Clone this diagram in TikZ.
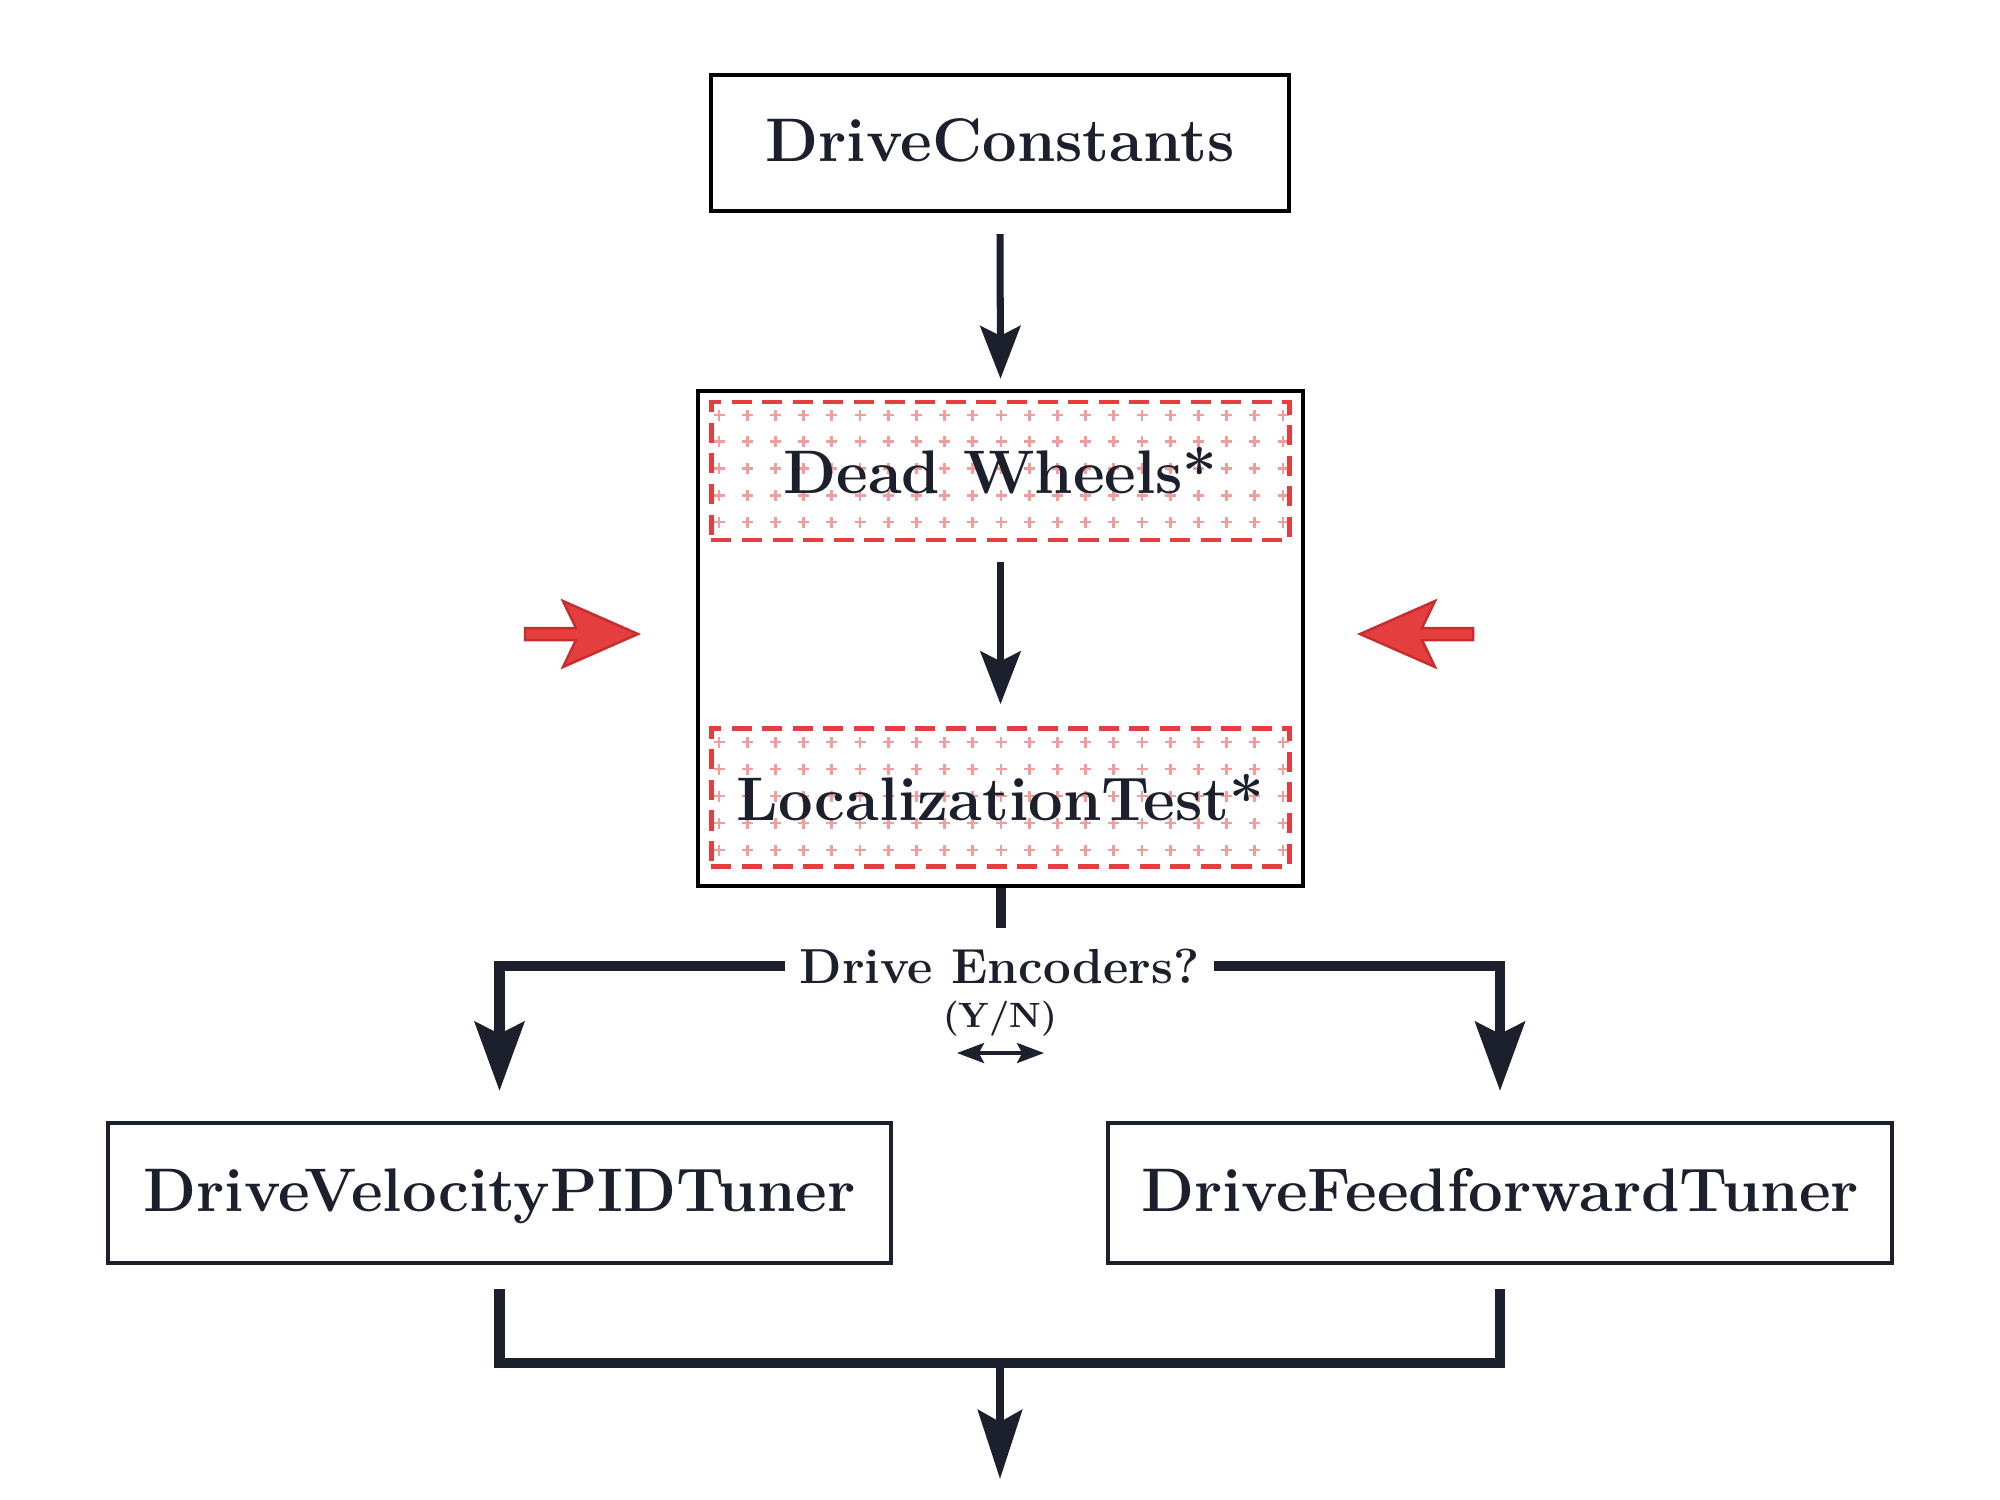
\documentclass[tikz,border=0pt]{standalone}
\usetikzlibrary{arrows.meta,calc,backgrounds}
\definecolor{navy}{HTML}{1B202C}
\definecolor{myred}{HTML}{E53E3E}
\definecolor{darkred}{HTML}{C62E2E}
\definecolor{plusred}{HTML}{F29C9C}
\begin{document}
\begin{tikzpicture}[x=0.01cm,y=-0.01cm,
  plainbox/.style={draw=navy, line width=1.15pt, text=navy, font=\fontsize{17.5}{21}\selectfont\bfseries, inner sep=0pt,
    text height=13.3pt, text depth=2.8pt},
  dashbox/.style={draw=myred, line width=1.3pt, dash pattern=on 5.7pt off 3pt, text=navy, font=\fontsize{17.5}{21}\selectfont\bfseries,
    minimum width=5.78cm, minimum height=1.38cm, inner sep=0pt},
  mainarrow/.style={draw=navy, line width=2pt, -{Stealth[length=15pt,width=11.4pt,inset=2.8pt]}},
  brancharrow/.style={draw=navy, line width=2.85pt, -{Stealth[length=19.6pt,width=14pt,inset=3.4pt]}},
  finalarrow/.style={draw=navy, line width=2.5pt, -{Stealth[length=19.6pt,width=12.5pt,inset=3.4pt]}},
  smallarrow/.style={draw=navy, line width=1pt, {Stealth[length=7.7pt,width=5.7pt,inset=1.5pt]}-{Stealth[length=7.7pt,width=5.7pt,inset=1.5pt]}},
  thickline/.style={draw=navy, line width=2.85pt},
  plussign/.style={draw=plusred, line width=0.75pt},
  redarrow/.style={fill=myred, draw=darkred, line width=0.7pt, line join=miter}
]
\useasboundingbox (0,0) rectangle (2000,1499);

% nodes
\node[plainbox, draw=black, minimum width=5.77cm, minimum height=1.36cm] (dc) at (1000,143) {DriveConstants};
\node[draw=black, line width=1.2pt, minimum width=6.05cm, minimum height=4.95cm, inner sep=0pt] (outer) at (1000.5,638.5) {};
\node[dashbox] (dw) at (1000.5,471) {Dead Wheels*};
\node[dashbox] (lt) at (1000.5,797.5) {LocalizationTest*};
\node[plainbox, minimum width=7.83cm, minimum height=1.40cm] (vel) at (499.5,1193) {DriveVelocityPIDTuner};
\node[plainbox, minimum width=7.83cm, minimum height=1.40cm] (ff) at (1500,1193) {DriveFeedforwardTuner};
\node[text=navy, font=\fontsize{14}{16}\selectfont\bfseries, inner xsep=4pt, inner ysep=2pt] (q) at (999.5,966) {Drive Encoders?};
\node[text=navy, font=\normalsize\bfseries, inner sep=1pt] (yn) at (1000,1019) {(Y/N)};

% plus patterns
\begin{scope}[on background layer]
  \begin{scope}
    \clip (dw.south west) rectangle (dw.north east);
    \foreach \i in {0,...,20}
      \foreach \j in {0,...,4}
        \draw[plussign] ({719+28.2*\i},{415+26.75*\j}) +(-5.5,0) -- +(5.5,0) +(0,-5.5) -- +(0,5.5);
  \end{scope}
  \begin{scope}
    \clip (lt.south west) rectangle (lt.north east);
    \foreach \i in {0,...,20}
      \foreach \j in {0,...,4}
        \draw[plussign] ({719+28.2*\i},{742+27*\j}) +(-5.5,0) -- +(5.5,0) +(0,-5.5) -- +(0,5.5);
  \end{scope}
\end{scope}

% connectors
\draw[mainarrow] ($(dc.south)+(0,21)$) -- ($(outer.north)+(0,-10)$);
\draw[mainarrow] ($(dw.south)+(0,20)$) -- ($(lt.north)+(0,-22)$);
\coordinate (stemend) at ($(outer.south)+(0,40)$);
\draw[thickline] (outer.south) -- (stemend);
\draw[brancharrow] (q.west) -| ($(vel.north)+(0,-30)$);
\draw[brancharrow] (q.east) -| ($(ff.north)+(0,-30)$);

\coordinate (ynl) at (957,1053);
\coordinate (ynr) at (1044,1053);
\draw[smallarrow] (ynl) -- (ynr);

\draw[thickline] ($(vel.south)+(0,24)$) |- ($(ff.south)+(0,98)$) -- ($(ff.south)+(0,24)$);
\coordinate (join) at (1000,1363);
\coordinate (outend) at (1000,1479);
\draw[finalarrow] (join) -- (outend);

% red arrows
\draw[redarrow] (525,628) -- (576,628) -- (563,601) -- (638,634) -- (563,667) -- (576,640) -- (525,640) -- cycle;
\draw[redarrow] (1473,628) -- (1422,628) -- (1435,601) -- (1360,634) -- (1435,667) -- (1422,640) -- (1473,640) -- cycle;
\end{tikzpicture}
\end{document}
